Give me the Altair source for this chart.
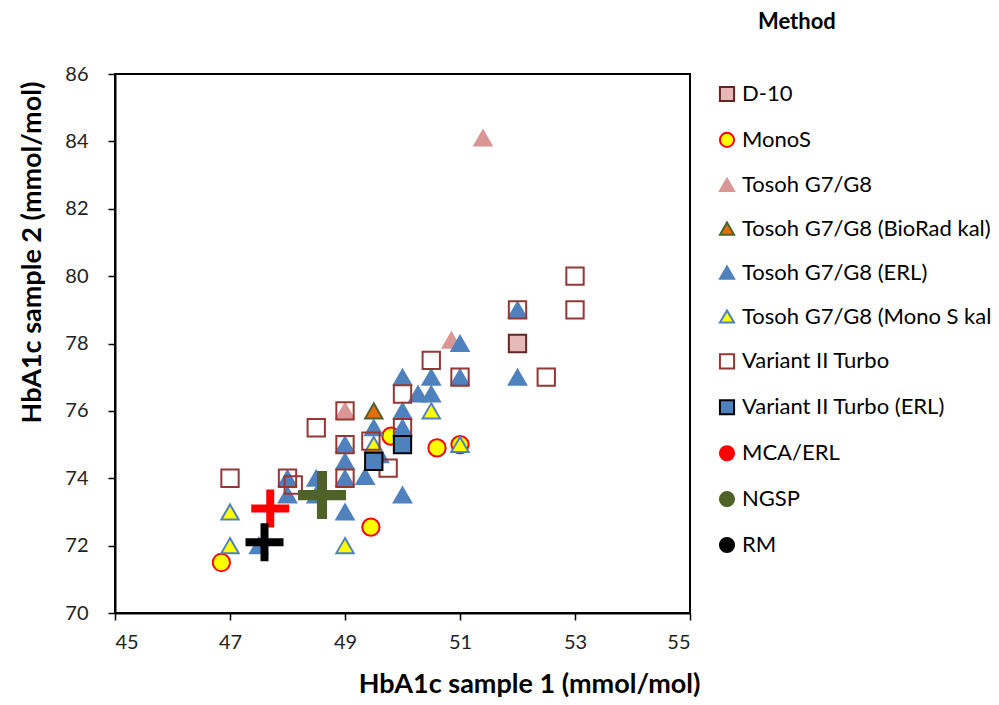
import altair as alt
import pandas as pd

methods = ["D-10", "MonoS", "Tosoh G7/G8", "Tosoh G7/G8 (BioRad kal)", "Tosoh G7/G8 (ERL)",
           "Tosoh G7/G8 (Mono S kal)", "Variant II Turbo", "Variant II Turbo (ERL)",
           "MCA/ERL", "NGSP", "RM"]

d10_x = [52.0]
d10_y = [78.0]
monos_x = [46.85, 49.45, 49.8, 50.6, 51.0]
monos_y = [71.5, 72.55, 75.25, 74.9, 75.0]
tosoh_x = [49.0, 50.85, 51.4]
tosoh_y = [76.0, 78.1, 84.1]
biorad_x = [49.5]
biorad_y = [76.0]
erl_x = [47.5, 48.0, 48.0, 48.5, 48.5, 49.0, 49.0, 49.0, 49.0, 49.35, 49.5, 49.6,
         50.0, 50.0, 50.0, 50.0, 50.27, 50.5, 50.5, 51.0, 51.0, 52.0, 52.0]
erl_y = [72.0, 74.0, 73.5, 74.0, 73.5, 75.0, 74.5, 74.0, 73.0, 74.05, 75.5, 74.7,
         77.0, 76.0, 75.5, 73.5, 76.5, 77.0, 76.5, 78.0, 77.0, 79.0, 77.0]
monoskal_x = [47.0, 47.0, 49.0, 49.5, 50.5, 51.0]
monoskal_y = [73.0, 72.0, 72.0, 75.0, 76.0, 75.0]
variant_x = [47.0, 48.0, 48.1, 48.5, 49.0, 49.0, 49.0, 49.45, 49.75, 50.0, 50.0, 50.5,
             51.0, 52.0, 52.5, 53.0, 53.0]
variant_y = [74.0, 74.0, 73.8, 75.5, 76.0, 75.0, 74.0, 75.1, 74.3, 76.5, 75.5, 77.5,
             77.0, 79.0, 77.0, 80.0, 79.0]
variant_erl_x = [49.5, 50.0]
variant_erl_y = [74.5, 75.0]
mca_x = [47.7]
mca_y = [73.1]
ngsp_x = [48.6]
ngsp_y = [73.5]
rm_x = [47.6]
rm_y = [72.1]

series = [
    (methods[0], d10_x, d10_y),
    (methods[1], monos_x, monos_y),
    (methods[2], tosoh_x, tosoh_y),
    (methods[3], biorad_x, biorad_y),
    (methods[4], erl_x, erl_y),
    (methods[5], monoskal_x, monoskal_y),
    (methods[6], variant_x, variant_y),
    (methods[7], variant_erl_x, variant_erl_y),
    (methods[8], mca_x, mca_y),
    (methods[9], ngsp_x, ngsp_y),
    (methods[10], rm_x, rm_y),
]
rows = []
for name, xs, ys in series:
    for a, b in zip(xs, ys):
        rows.append({"Method": name, "s1": a, "s2": b})
df = pd.DataFrame(rows)

crosses = ["MCA/ERL", "NGSP", "RM"]
df_pts = df[~df["Method"].isin(crosses)]
df_x = df[df["Method"].isin(crosses)]

fill_range = ["#e6b9b8", "#ffff00", "#d99694", "#e46c0a", "#4f81bd", "#ffff00",
              "transparent", "#4f81bd", "#ff0000", "#4f6228", "#000000"]
stroke_range = ["#632523", "#ff0000", "#d99694", "#4f6228", "#4f81bd", "#4f81bd",
                "#953735", "#000000", "#ff0000", "#4f6228", "#000000"]
shape_range = ["square", "circle", "triangle-up", "triangle-up", "triangle-up", "triangle-up",
               "square", "square", "circle", "circle", "circle"]

FONT = "Lato"
leg = alt.Legend(title=None)
fill_enc = alt.Fill("Method:N", scale=alt.Scale(domain=methods, range=fill_range), legend=leg)
stroke_enc = alt.Stroke("Method:N", scale=alt.Scale(domain=methods, range=stroke_range), legend=leg)
shape_enc = alt.Shape("Method:N", scale=alt.Scale(domain=methods, range=shape_range), legend=leg)

xenc = alt.X("s1:Q", scale=alt.Scale(domain=[45, 55], nice=False),
             axis=alt.Axis(values=[45, 47, 49, 51, 53, 55], format="d",
                           title="HbA1c sample 1 (mmol/mol)",
                           titleX=585, titleY=79, titleAlign="right", titleBaseline="alphabetic"))
yenc = alt.Y("s2:Q", scale=alt.Scale(domain=[70, 86], nice=False),
             axis=alt.Axis(values=list(range(70, 87, 2)), format="d",
                           title="HbA1c sample 2 (mmol/mol)",
                           titleX=-83, titleY=178, titleBaseline="middle"))

points = alt.Chart(df_pts).mark_point(filled=True, size=300, strokeWidth=2, opacity=1).encode(
    x=xenc, y=yenc, fill=fill_enc, stroke=stroke_enc, shape=shape_enc
)

CROSS = "M-1,-0.21H-0.21V-1H0.21V-0.21H1V0.21H0.21V1H-0.21V0.21H-1Z"
cross_layer = alt.Chart(df_x).mark_point(filled=True, shape=CROSS, strokeWidth=0, opacity=1).encode(
    x="s1:Q", y="s2:Q", fill=fill_enc,
    size=alt.condition(alt.datum.Method == "NGSP", alt.value(2304), alt.value(1444))
)

chart = alt.layer(points, cross_layer).properties(
    width=575, height=539,
    autosize=alt.AutoSizeParams(type="none"),
    padding={"left": 107, "top": 66, "right": 301, "bottom": 84},
    title=alt.TitleParams("Method", anchor="start", frame="group",
                          dx=643, offset=30, fontSize=22, font=FONT, fontWeight="bold",
                          color="#000000"),
).configure_view(stroke="#000000", strokeWidth=2).configure_axis(
    grid=False, domainColor="#000000", domainWidth=2, tickColor="#000000", tickWidth=1.5,
    tickSize=7, labelFont=FONT, labelFontSize=20, labelColor="#222222", titleFont=FONT,
    titleFontSize=27, titleFontWeight="bold", titleColor="#000000",
).configure_axisY(labelPadding=20).configure_axisX(labelPadding=12).configure_legend(
    orient="none", legendX=601, legendY=9, symbolSize=200, symbolStrokeWidth=2,
    labelFont=FONT, labelFontSize=22, labelColor="#000000", labelOffset=4, rowPadding=21.9,
    labelLimit=500, padding=0
)

chart.save("out.html", embed_options={"renderer": "svg", "actions": False})
